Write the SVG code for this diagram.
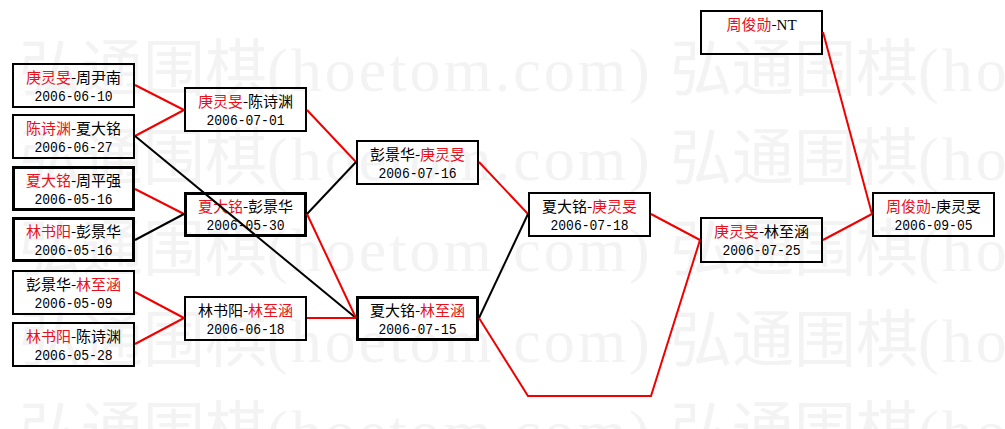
<svg xmlns="http://www.w3.org/2000/svg" width="1005" height="429" viewBox="0 0 1005 429">
<style>
.wm{font-size:62px;fill:#f3f3f3;font-family:"Noto Sans CJK SC","Liberation Serif",serif}
.wml{font-family:"Liberation Serif",serif;letter-spacing:3px}
.box{fill:none;stroke:#000;stroke-width:2}
.thick{stroke-width:3}
.nm{font-family:"Noto Sans CJK SC",sans-serif;font-size:15px;fill:#000;text-anchor:middle}
.dt{font-family:"Liberation Mono",monospace;font-size:14px;fill:#000;text-anchor:middle}
.r{fill:#e8101a}
.nt{font-family:"Liberation Serif",serif}
.c{fill:none;stroke-width:2}
.cr{stroke:#f00000}
.cb{stroke:#000}
</style>
<defs>
<text id="wmrow" class="wm" x="19" y="0">弘通围棋<tspan class="wml">(hoetom.com) </tspan><tspan x="670">弘通围棋</tspan><tspan class="wml">(hoetom.com)</tspan></text>
</defs>
<rect width="1005" height="429" fill="#fff"/>
<g id="watermark">
<use href="#wmrow" y="91"/>
<use href="#wmrow" y="180"/>
<use href="#wmrow" y="271"/>
<use href="#wmrow" y="362"/>
<use href="#wmrow" y="453"/>
</g>
<g id="n1"><rect class="box" x="13" y="64" width="121" height="43"/><text class="nm" x="73.5" y="83"><tspan class="r">庚灵旻</tspan>-周尹南</text><text class="dt" x="73.5" y="100.5" textLength="78" lengthAdjust="spacingAndGlyphs">2006-06-10</text></g>
<g id="n2"><rect class="box" x="13" y="115" width="121" height="43"/><text class="nm" x="73.5" y="134"><tspan class="r">陈诗渊</tspan>-夏大铭</text><text class="dt" x="73.5" y="151.5" textLength="78" lengthAdjust="spacingAndGlyphs">2006-06-27</text></g>
<g id="n3"><rect class="box thick" x="13.5" y="167.5" width="120" height="42"/><text class="nm" x="73.5" y="186"><tspan class="r">夏大铭</tspan>-周平强</text><text class="dt" x="73.5" y="203.5" textLength="78" lengthAdjust="spacingAndGlyphs">2006-05-16</text></g>
<g id="n4"><rect class="box thick" x="13.5" y="218.5" width="120" height="42"/><text class="nm" x="73.5" y="237"><tspan class="r">林书阳</tspan>-彭景华</text><text class="dt" x="73.5" y="254.5" textLength="78" lengthAdjust="spacingAndGlyphs">2006-05-16</text></g>
<g id="n5"><rect class="box" x="13" y="271" width="121" height="43"/><text class="nm" x="73.5" y="290">彭景华-<tspan class="r">林至涵</tspan></text><text class="dt" x="73.5" y="307.5" textLength="78" lengthAdjust="spacingAndGlyphs">2006-05-09</text></g>
<g id="n6"><rect class="box" x="13" y="323" width="121" height="43"/><text class="nm" x="73.5" y="342"><tspan class="r">林书阳</tspan>-陈诗渊</text><text class="dt" x="73.5" y="359.5" textLength="78" lengthAdjust="spacingAndGlyphs">2006-05-28</text></g>
<g id="nA"><rect class="box" x="185" y="88" width="121" height="43"/><text class="nm" x="245.5" y="107"><tspan class="r">庚灵旻</tspan>-陈诗渊</text><text class="dt" x="245.5" y="124.5" textLength="78" lengthAdjust="spacingAndGlyphs">2006-07-01</text></g>
<g id="nB"><rect class="box thick" x="185.5" y="193.5" width="120" height="42"/><text class="nm" x="245.5" y="212"><tspan class="r">夏大铭</tspan>-彭景华</text><text class="dt" x="245.5" y="229.5" textLength="78" lengthAdjust="spacingAndGlyphs">2006-05-30</text></g>
<g id="nC"><rect class="box" x="185" y="297" width="121" height="43"/><text class="nm" x="245.5" y="316">林书阳-<tspan class="r">林至涵</tspan></text><text class="dt" x="245.5" y="333.5" textLength="78" lengthAdjust="spacingAndGlyphs">2006-06-18</text></g>
<g id="nD"><rect class="box" x="357" y="141" width="121" height="43"/><text class="nm" x="417.5" y="160">彭景华-<tspan class="r">庚灵旻</tspan></text><text class="dt" x="417.5" y="177.5" textLength="78" lengthAdjust="spacingAndGlyphs">2006-07-16</text></g>
<g id="nE"><rect class="box thick" x="357.5" y="297.5" width="120" height="42"/><text class="nm" x="417.5" y="316">夏大铭-<tspan class="r">林至涵</tspan></text><text class="dt" x="417.5" y="333.5" textLength="78" lengthAdjust="spacingAndGlyphs">2006-07-15</text></g>
<g id="nF"><rect class="box" x="529" y="193" width="121" height="43"/><text class="nm" x="589.5" y="212">夏大铭-<tspan class="r">庚灵旻</tspan></text><text class="dt" x="589.5" y="229.5" textLength="78" lengthAdjust="spacingAndGlyphs">2006-07-18</text></g>
<g id="nG"><rect class="box" x="701" y="218" width="121" height="44"/><text class="nm" x="761.5" y="237"><tspan class="r">庚灵旻</tspan>-林至涵</text><text class="dt" x="761.5" y="254.5" textLength="78" lengthAdjust="spacingAndGlyphs">2006-07-25</text></g>
<g id="nH"><rect class="box" x="701" y="11" width="121" height="43"/><text class="nm" x="761.5" y="30"><tspan class="r">周俊勋</tspan>-<tspan class="nt">NT</tspan></text></g>
<g id="nI"><rect class="box" x="873" y="193" width="121" height="43"/><text class="nm" x="933.5" y="212"><tspan class="r">周俊勋</tspan>-庚灵旻</text><text class="dt" x="933.5" y="229.5" textLength="78" lengthAdjust="spacingAndGlyphs">2006-09-05</text></g>
<g id="connectors">
<path class="c cr" d="M135 85L184 110"/>
<path class="c cr" d="M135 136L184 110"/>
<path class="c cb" d="M135 136L356 318"/>
<path class="c cr" d="M135 189L184 214"/>
<path class="c cb" d="M135 240L184 214"/>
<path class="c cr" d="M135 292L184 318"/>
<path class="c cr" d="M135 344L184 318"/>
<path class="c cr" d="M307 110L356 162"/>
<path class="c cb" d="M307 214L356 162"/>
<path class="c cr" d="M307 214L356 318"/>
<path class="c cr" d="M307 318L356 318"/>
<path class="c cr" d="M479 162L528 214"/>
<path class="c cb" d="M479 318L528 214"/>
<path class="c cr" d="M479 318L528 396L651 396L700 240"/>
<path class="c cr" d="M651 214L700 240"/>
<path class="c cr" d="M823 240L872 214"/>
<path class="c cr" d="M823 32L872 214"/>
</g>
</svg>
